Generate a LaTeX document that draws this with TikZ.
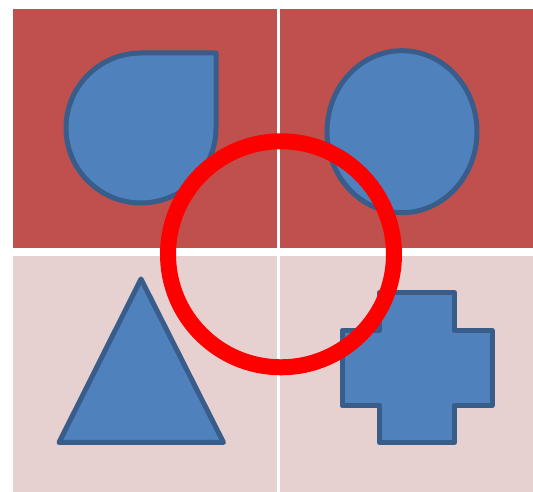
\documentclass[tikz,border=0pt]{standalone}
\definecolor{quadred}{HTML}{C0504D}
\definecolor{quadpink}{HTML}{E7D0D0}
\definecolor{shapefill}{HTML}{4F81BD}
\definecolor{shapeline}{HTML}{385D8A}
\begin{document}
\begin{tikzpicture}[x=1pt,y=1pt,
  blueshape/.style={fill=shapefill,draw=shapeline,line width=5pt,line join=round},
  ring/.style={draw=red,line width=16pt}]
\useasboundingbox (0,0) rectangle (533,492);
\fill[quadred] (13,244) rectangle (277.3,482.7);
\fill[quadred] (280,244) rectangle (533,482.7);
\fill[quadpink] (13,0) rectangle (277.3,236);
\fill[quadpink] (280,0) rectangle (533,236);
\draw[blueshape] (141,439) -- (216,439) -- (216,364) arc[start angle=0,end angle=-270,radius=75] -- cycle;
\draw[blueshape] (402,360.3) ellipse[x radius=75,y radius=81];
\draw[blueshape] (59,49.5) -- (223.5,49.5) -- (141,213) -- cycle;
\draw[blueshape] (379.5,199.5) -- (454.5,199.5) -- (454.5,161.5) -- (492,161.5) -- (492,86.5) -- (454.5,86.5) -- (454.5,49.5) -- (379.5,49.5) -- (379.5,86.5) -- (342,86.5) -- (342,161.5) -- (379.5,161.5) -- cycle;
\draw[ring] (281,237.7) circle[radius=113];
\end{tikzpicture}
\end{document}
